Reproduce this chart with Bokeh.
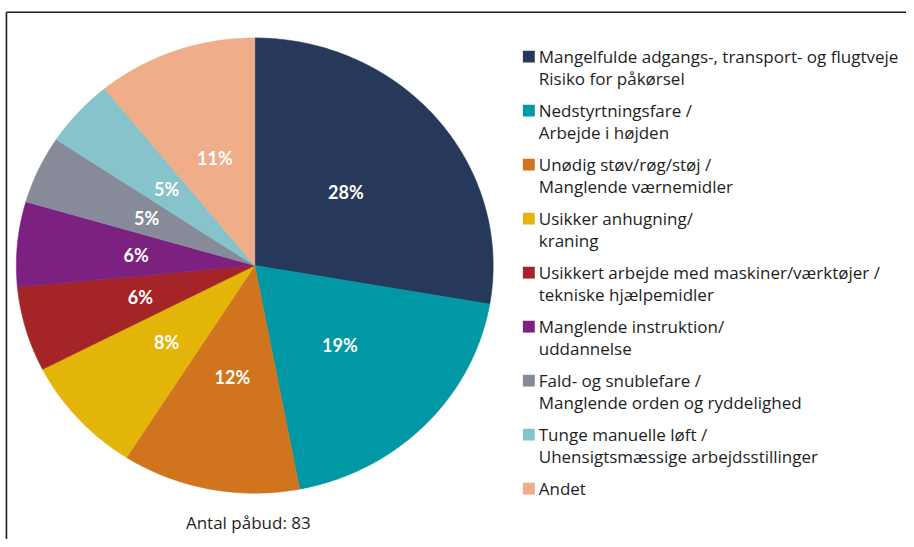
import numpy as np
from bokeh.plotting import figure
from bokeh.models import Range1d
from bokeh.core.properties import value
from bokeh.embed import file_html
from bokeh.resources import INLINE

# ---- data ----
categories = [
    "Mangelfulde adgangs-, transport- og flugtveje\nRisiko for påkørsel",
    "Nedstyrtningsfare /\nArbejde i højden",
    "Unødig støv/røg/støj /\nManglende værnemidler",
    "Usikker anhugning/\nkraning",
    "Usikkert arbejde med maskiner/værktøjer /\ntekniske hjælpemidler",
    "Manglende instruktion/\nuddannelse",
    "Fald- og snublefare /\nManglende orden og ryddelighed",
    "Tunge manuelle løft /\nUhensigtsmæssige arbejdsstillinger",
    "Andet",
]
counts = [23, 16, 10, 7, 5, 5, 4, 4, 9]
colors = ["#26395A", "#0098A4", "#D0741E", "#E2B508", "#A52428",
          "#7D2180", "#878B99", "#87C3CA", "#EFAD89"]
footer = "Antal påbud: 83"

# ---- layout constants (reference pixel space, scaled into the canvas) ----
W, H = 906, 539
RW, RH = 914, 547
cx, cy, rx, ry = 256.5, 269.0, 240.5, 231.0
LBL_FONT = "Lato"
TXT_FONT = "Open Sans"

p = figure(width=W, height=H, output_backend="svg", toolbar_location=None,
           x_range=Range1d(0, RW), y_range=Range1d(RH, 0),
           min_border=0, background_fill_color="white", border_fill_color="white")
p.axis.visible = False
p.grid.visible = False
p.outline_line_color = None

total = sum(counts)
cum = np.concatenate([[0], np.cumsum(counts)]) / total * 2 * np.pi

xs, ys, lx, ly, labels = [], [], [], [], []
for i, c in enumerate(counts):
    a0, a1 = cum[i], cum[i + 1]
    t = np.linspace(a0, a1, 120)
    xs.append(list(np.concatenate([[cx], cx + rx * np.sin(t)])))
    ys.append(list(np.concatenate([[cy], cy - ry * np.cos(t)])))
    am = (a0 + a1) / 2
    lx.append(cx + 0.5 * rx * np.sin(am))
    ly.append(cy - 0.5 * ry * np.cos(am))
    labels.append(f"{round(100 * c / total)}%")

p.patches(xs=xs, ys=ys, fill_color=colors, line_color=colors, line_width=0.6)

p.text(x=lx, y=ly, text=labels, text_color="white", text_font=value(LBL_FONT),
       text_font_style="bold", text_font_size="18px",
       text_align="center", text_baseline="middle")

# ---- legend ----
leg_x, leg_y0, step, line_h = 533, 57, 54.8, 22.3
sq_x, sq_y = [], []
tx, ty, tt = [], [], []
for i, cat in enumerate(categories):
    yy = leg_y0 + step * i
    sq_x.append(leg_x)
    sq_y.append(yy)
    for j, ln in enumerate(cat.split("\n")):
        tx.append(leg_x + 10)
        ty.append(yy + j * line_h - 0.5)
        tt.append(ln)
p.rect(x=sq_x, y=sq_y, width=12, height=12, fill_color=colors, line_color=None)
p.text(x=tx, y=ty, text=tt, text_color="#1E1E1E", text_font=value(TXT_FONT),
       text_font_size="17px", text_align="left", text_baseline="middle")

# footer
p.text(x=[250], y=[530], text=[footer], text_color="#1E1E1E", text_font=value(TXT_FONT),
       text_font_size="17px", text_align="center", text_baseline="middle")

# frame (cropped border)
p.segment(x0=[6, 6], y0=[12, 12], x1=[RW, 6], y1=[12, RH],
          line_color="#1A1A1A", line_width=1.6)

open("out.html", "w").write(file_html(p, INLINE))
